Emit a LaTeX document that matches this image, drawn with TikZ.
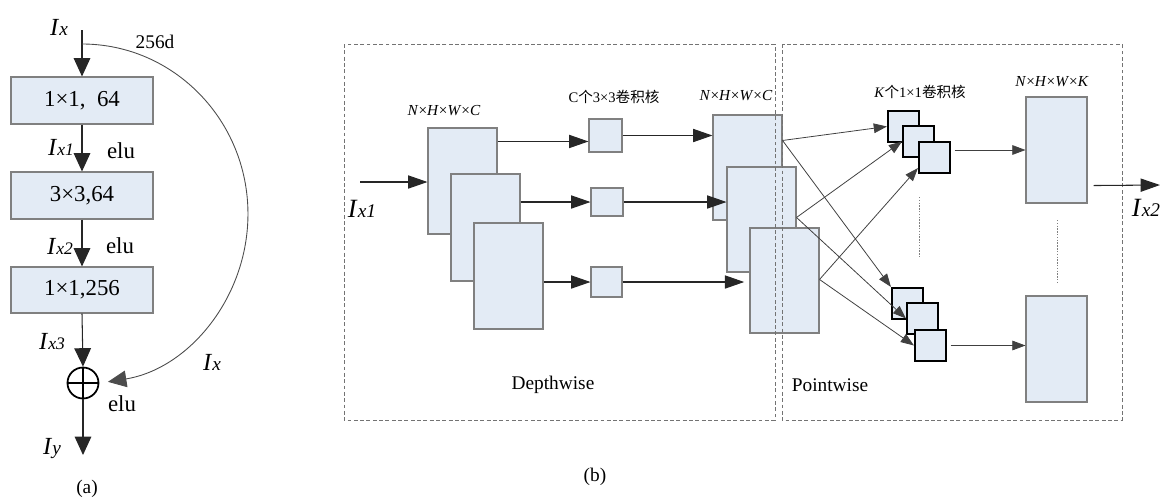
\documentclass[tikz,border=0pt]{standalone}
\usepackage{fontspec}
\setmainfont{Liberation Serif}
\newfontfamily\cjk{Noto Sans CJK SC}
\usetikzlibrary{arrows.meta,calc}
\definecolor{boxfill}{HTML}{E3EBF5}
\definecolor{boxline}{HTML}{808080}
\newcommand\IxLabel[3]{{\fontsize{#1}{#1}\selectfont\textit{I}}{\fontsize{#2}{#2}\selectfont\textit{#3}}}
\begin{document}
\begin{tikzpicture}[x={(0.02cm,0)},y={(0,-0.02cm)},
  sz/.style 2 args={minimum width=#1*0.02cm, minimum height=#2*0.02cm},
  box/.style={draw=boxline, fill=boxfill, line width=0.6pt, inner sep=0pt},
  kern/.style={draw=black, fill=boxfill, line width=1.2pt, inner sep=0pt, minimum size=31*0.02cm},
  conn/.style={draw=black!85, line width=0.6pt},
  bigarrow/.style={conn, -{Triangle[length=10.5pt,width=9.5pt]}},
  midarrow/.style={conn, -{Triangle[length=11pt,width=7.5pt]}},
  thinarrow/.style={draw=black!75, line width=0.45pt, -{Triangle[length=7.5pt,width=5.5pt]}},
  lab/.style={inner sep=0pt},
  region/.style={draw=black!55, line width=0.5pt, dash pattern=on 2.2pt off 1.4pt},
  dotline/.style={draw=black!50, line width=0.5pt, dash pattern=on 0.8pt off 0.8pt},
]
\useasboundingbox (0,0) rectangle (1160,498);

% ---------------- (a) ----------------
\node[box, sz={142}{47}, font=\fontsize{13}{13}\selectfont] (b1) at (82,100.5) {1×1,~~64};
\node[box, sz={142}{47}, font=\fontsize{13}{13}\selectfont] (b2) at (82,195.5) {3×3,64};
\node[box, sz={142}{46}, font=\fontsize{13}{13}\selectfont] (b3) at (82,290) {1×1,256};
\node[circle, draw=black, line width=1pt, minimum size=31*0.02cm, inner sep=0pt] (plus) at (83,383) {};
\draw[line width=1pt] (plus.north) -- (plus.south) (plus.west) -- (plus.east);
\coordinate (top) at (82,30);
\coordinate (split) at (82,44);
\coordinate (yout) at (83,455);
\draw[bigarrow] (top) -- (b1.north);
\draw[bigarrow] (b1.south) -- (b2.north);
\draw[bigarrow] (b2.south) -- (b3.north);
\draw[bigarrow] (b3.south) -- (plus.north);
\draw[bigarrow] (plus.south) -- (yout);
\draw[draw=black!70, line width=0.5pt, -{Triangle[length=10.5pt,width=9.5pt]}] (split) arc[start angle=90, end angle=-81, x radius=3.32cm, y radius=3.4cm];

\node[lab] at (59,27) {\IxLabel{14}{11}{x}};
\node[lab, font=\fontsize{11}{11}\selectfont] at (155,42) {256d};
\node[lab] at (61,147) {\IxLabel{14}{10}{x1}};
\node[lab, font=\fontsize{13}{13}\selectfont] at (121,151) {elu};
\node[lab] at (60,246) {\IxLabel{14}{10}{x2}};
\node[lab, font=\fontsize{13}{13}\selectfont] at (120,246) {elu};
\node[lab] at (52,342) {\IxLabel{14}{10}{x3}};
\node[lab] at (212,362) {\IxLabel{14}{11}{x}};
\node[lab, font=\fontsize{13}{13}\selectfont] at (122,404) {elu};
\node[lab] at (52,449) {\IxLabel{14}{11}{y}};
\node[lab, font=\fontsize{11}{11}\selectfont] at (87,489) {(a)};

% ---------------- (b) ----------------
% depthwise input maps
\node[box, sz={69}{106}] (A) at (462.5,181) {};
\node[box, sz={69}{107}] (B) at (485.5,227.5) {};
\node[box, sz={69}{106}] (C) at (508.5,276) {};
% 3x3 kernels
\node[box, sz={33}{33}] (S1) at (605.5,135.5) {};
\node[box, sz={32}{28}] (S2) at (607,202) {};
\node[box, sz={31}{30}] (S3) at (606.5,282) {};
% depthwise outputs
\node[box, sz={69}{105}] (R1) at (747.5,167.5) {};
\node[box, sz={69}{105}] (R2) at (761.5,219.5) {};
\node[box, sz={69}{105}] (R3) at (784.5,280.5) {};
% 1x1 kernels
\node[kern] (K1a) at (903.5,126.5) {};
\node[kern] (K1b) at (918.5,141.5) {};
\node[kern] (K1c) at (934.5,157.5) {};
\node[kern] (K2a) at (907.5,303.5) {};
\node[kern] (K2b) at (922.5,318.5) {};
\node[kern] (K2c) at (930.5,345.5) {};
% pointwise outputs
\node[box, sz={61}{106}] (O1) at (1056.5,150) {};
\node[box, sz={61}{106}] (O2) at (1056.5,349) {};

% region frames
\draw[region] (344,44) rectangle (775,420);
\draw[region] (782,44) rectangle (1122,420);

% dotted ellipsis lines
\draw[dotline] (919,197) -- (919,257);
\draw[dotline] (1057,220) -- (1057,282);

% arrows depthwise
\coordinate (xin) at (360,182);
\draw[midarrow] (xin) -- (xin -| A.west);
\coordinate (a1) at ($(A.north east)+(0,14)$);
\draw[midarrow] (a1) -- (a1 -| S1.west);
\draw[midarrow] (S1.east) -- (S1.east -| R1.west);
\draw[midarrow] (S2.west -| B.east) -- (S2.west);
\draw[midarrow] (S2.east) -- (S2.east -| R2.west);
\draw[midarrow] (S3.west -| C.east) -- (S3.west);
\draw[midarrow, shorten >=3pt] (S3.east) -- (S3.east -| R3.west);

% arrows pointwise
\coordinate (r1) at ($(R1.north east)+(0,26)$);
\coordinate (r2) at ($(R2.north east)+(0,51)$);
\coordinate (r3) at ($(R3.north east)+(0,52)$);
\draw[thinarrow] (r1) -- (K1a.west);
\draw[thinarrow] (r1) -- (K2a.north west);
\draw[thinarrow] (r2) -- (K1b.west);
\draw[thinarrow] (r2) -- (K2b.west);
\draw[thinarrow] (r3) -- ($(K1c.south west)+(0,-6)$);
\draw[thinarrow] (r3) -- (K2c.west);
\draw[thinarrow, shorten <=2pt] (O1.west -| K1c.east) -- (O1.west);
\draw[thinarrow, shorten <=2pt] (K2c.east) -- (K2c.east -| O2.west);
\coordinate (o1) at ($(O1.south east)+(6,-18)$);
\coordinate (xout) at (1160,185);
\draw[midarrow] (o1) -- (xout);

% labels (b)
\node[lab, font=\fontsize{8.7}{8.7}\selectfont] at (444,111) {\textit{N}×\textit{H}×\textit{W}×\textit{C}};
\node[lab, font=\fontsize{8.7}{8.7}\selectfont] at (736,96) {\textit{N}×\textit{H}×\textit{W}×\textit{C}};
\node[lab, font=\fontsize{8.3}{8.3}\selectfont] at (614,97) {C{\cjk 个}3×3{\cjk 卷积核}};
\node[lab, font=\fontsize{8.3}{8.3}\selectfont] at (920,92) {\textit{K}{\cjk 个}1×1{\cjk 卷积核}};
\node[lab, font=\fontsize{8.7}{8.7}\selectfont] at (1052,82) {\textit{N}×\textit{H}×\textit{W}×\textit{K}};
\node[lab] at (362,209) {\IxLabel{15}{11}{x1}};
\node[lab] at (1146,208) {\IxLabel{15}{11}{x2}};
\node[lab, font=\fontsize{11}{11}\selectfont] at (553,385) {Depthwise};
\node[lab, font=\fontsize{11}{11}\selectfont] at (830,385) {Pointwise};
\node[lab, font=\fontsize{11}{11}\selectfont] at (595,477) {(b)};
\end{tikzpicture}
\end{document}
